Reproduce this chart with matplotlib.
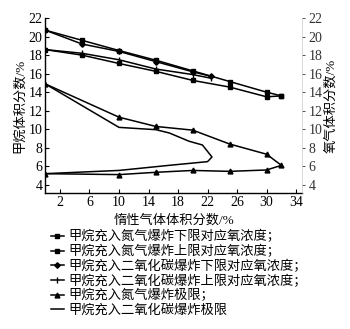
import matplotlib
matplotlib.use("Agg")
import matplotlib.pyplot as plt
from matplotlib.lines import Line2D

plt.rcParams["font.family"] = ["Liberation Serif", "Noto Sans CJK SC", "DejaVu Sans"]
plt.rcParams["axes.unicode_minus"] = False

# oxygen concentration at explosion limits (%)
n2_low_x = [0, 5, 10, 15, 20, 25, 30, 32]
n2_low_o2 = [20.7, 19.6, 18.5, 17.45, 16.3, 15.15, 14.0, 13.6]
n2_up_x = [0, 5, 10, 15, 20, 25, 30, 32]
n2_up_o2 = [18.6, 18.0, 17.1, 16.25, 15.27, 14.55, 13.5, 13.6]
co2_low_x = [0, 5, 10, 15, 20, 22.5]
co2_low_o2 = [20.7, 19.2, 18.4, 17.3, 16.2, 15.7]
co2_up_x = [0, 5, 10, 15, 20, 22.5]
co2_up_o2 = [18.6, 18.2, 17.5, 16.5, 15.9, 15.5]

# methane explosion limits (%), upper branch then back along lower branch
n2_lim_x = [0, 10, 15, 20, 25, 30, 32, 30, 25, 20, 15, 10, 0]
n2_lim_ch4 = [14.9, 11.3, 10.3, 9.9, 8.4, 7.3, 6.1, 5.6, 5.45, 5.55, 5.35, 5.1, 5.2]
co2_lim_x = [0, 10, 15, 16.8, 19.5, 21.3, 22.6, 22.0, 16.8, 10, 0]
co2_lim_ch4 = [14.9, 10.2, 9.95, 9.6, 8.7, 8.3, 7.0, 6.5, 6.1, 5.55, 5.2]

labels = [
    "甲烷充入氮气爆炸下限对应氧浓度；",
    "甲烷充入氮气爆炸上限对应氧浓度；",
    "甲烷充入二氧化碳爆炸下限对应氧浓度；",
    "甲烷充入二氧化碳爆炸上限对应氧浓度；",
    "甲烷充入氮气爆炸极限；",
    "甲烷充入二氧化碳爆炸极限",
]
x_ticks = [2, 6, 10, 14, 18, 22, 26, 30, 34]
y_ticks = [4, 6, 8, 10, 12, 14, 16, 18, 20, 22]

fig = plt.figure(figsize=(3.5, 3.29), dpi=100)
ax = fig.add_axes([0.129, 0.413, 0.734, 0.532])

lw = 1.1
ax.plot(n2_low_x, n2_low_o2, color="black", lw=lw, marker="s", ms=3)
ax.plot(n2_up_x, n2_up_o2, color="black", lw=lw, marker="s", ms=3)
ax.plot(co2_low_x, co2_low_o2, color="black", lw=lw, marker="D", ms=2.8)
ax.plot(co2_up_x, co2_up_o2, color="black", lw=lw, marker="|", ms=4, mew=1)
ax.plot(n2_lim_x, n2_lim_ch4, color="black", lw=lw, marker="^", ms=3.5)
ax.plot(co2_lim_x, co2_lim_ch4, color="black", lw=lw)

ax.set_xlim(0, 34.8)
ax.set_ylim(3.1, 22)
ax.set_xticks(x_ticks)
ax.set_yticks(y_ticks)
ax.tick_params(direction="in", length=3, width=0.8, labelsize=10, pad=2)
ax.spines["top"].set_visible(False)
ax.spines["right"].set_visible(False)
for s in ["left", "bottom"]:
    ax.spines[s].set_linewidth(1.0)

ax2 = ax.twinx()
ax2.set_ylim(ax.get_ylim())
ax2.set_yticks(y_ticks)
ax2.tick_params(direction="out", length=2.5, width=0.6, labelsize=10, pad=2, colors="#333333")
for s in ["top", "left", "bottom"]:
    ax2.spines[s].set_visible(False)
ax2.spines["right"].set_linewidth(0.4)
ax2.spines["right"].set_color("#bbbbbb")

ax.set_xlabel("惰性气体体积分数/%", fontsize=9.5, labelpad=4)
ax.set_ylabel("甲烷体积分数/%", fontsize=9.5, labelpad=2)
ax2.set_ylabel("氧气体积分数/%", fontsize=9.5, labelpad=2, rotation=90)

handles = [
    Line2D([], [], color="black", lw=lw, marker="s", ms=3),
    Line2D([], [], color="black", lw=lw, marker="s", ms=3),
    Line2D([], [], color="black", lw=lw, marker="D", ms=2.8),
    Line2D([], [], color="black", lw=lw, marker="|", ms=4, mew=1),
    Line2D([], [], color="black", lw=lw, marker="^", ms=3.5),
    Line2D([], [], color="black", lw=lw),
]
fig.legend(handles, labels, loc="upper left", bbox_to_anchor=(0.145, 0.3),
           frameon=False, fontsize=9.5, handlelength=1.0, handletextpad=0.3,
           labelspacing=0.12, borderpad=0, borderaxespad=0)

fig.savefig("out.png", dpi=100)
